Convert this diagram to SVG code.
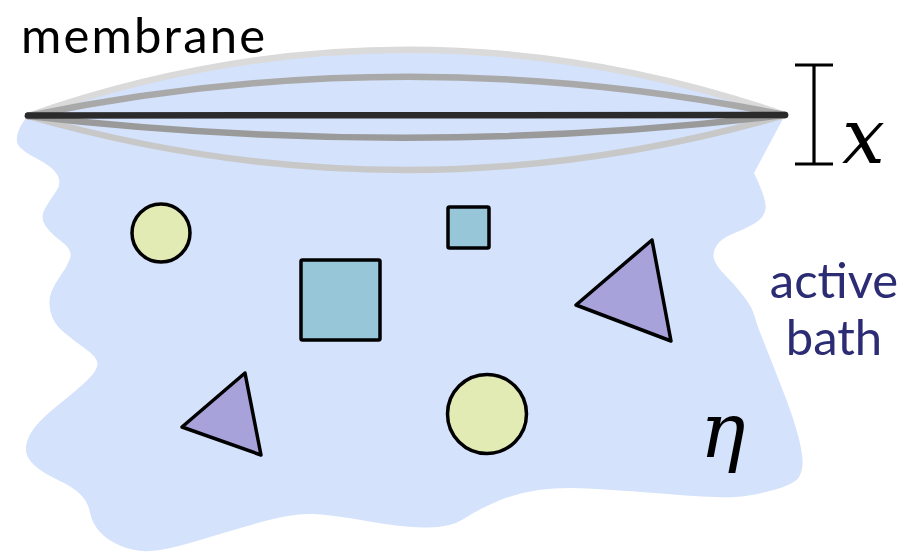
<svg xmlns="http://www.w3.org/2000/svg" width="907" height="554" viewBox="0 0 907 554">
<style>
.shape{stroke:#000;stroke-width:3.5;stroke-linejoin:round}
.circ{fill:#e1ebb3}
.sq{fill:#97c6d9}
.tri{fill:#a7a3da}
.mem{fill:none;stroke-linecap:round;stroke-width:6.5}
.lbl{font-family:"Lato","Liberation Sans",sans-serif;font-size:49px}
.math{font-family:"DejaVu Serif","Liberation Serif",serif;font-style:italic}
</style>
<rect width="907" height="554" fill="#fff"/>
<g id="bath">
<path fill="#d4e2fc" d="M28,116 C280,28 533,28 785,115 L754,173 Q767,200 765.5,209 Q764,218 754.5,223.5 Q745,229 733.5,233.5 Q722,238 717,245 Q712,252 714,259 Q716,266 725.5,275.5 Q735,285 743.5,296 Q752,307 754.5,316 Q757,325 762,337.5 Q767,350 773.5,366.5 Q780,383 786.5,400 Q793,417 797.5,433.5 Q802,450 802.5,460 Q803,470 799,477 Q795,484 773.5,490 Q752,496 734.5,497 Q717,498 667,494 Q617,490 588.5,488.5 Q560,487 538.5,490 Q517,493 497,501.5 Q477,510 463.5,519 Q450,528 425,527.5 Q400,527 366.5,521 Q333,515 313,514 Q293,513 263,521.5 Q233,530 200,540 Q167,550 151,551 Q135,552 121,546 Q107,540 99.5,531.5 Q92,523 90,512.5 Q88,502 80.5,494.5 Q73,487 58,480 Q43,473 34,465 Q25,457 26,447 Q27,437 35,427 Q43,417 60,403.5 Q77,390 87.5,380 Q98,370 97.5,363.5 Q97,357 85,348.5 Q73,340 63,331.5 Q53,323 50.5,311.5 Q48,300 51.5,291.5 Q55,283 61,275 Q67,267 70,258.5 Q73,250 61.5,241.5 Q50,233 45,225 Q40,217 45,208.5 Q50,200 56,191.5 Q62,183 57.5,175 Q53,167 37.5,159 Q22,151 18.5,145.5 Q15,140 18.5,131 Q22,122 28,116 Z"/>
</g>
<g id="membrane">
<path class="mem" stroke="#dadada" d="M28,116 C280,28 533,28 785,115"/>
<path class="mem" stroke="#c8c8c8" d="M28,116 C280,188 533,188 785,115"/>
<path class="mem" stroke="#a9a9a9" d="M28,116 C280,64 533,64 785,115"/>
<path class="mem" stroke="#9a9a9a" d="M28,116 C280,145 533,145 785,115"/>
<path class="mem" stroke="#2b2b2b" stroke-width="7" d="M28,115.5 L785,115"/>
</g>
<g id="circle1"><circle class="shape circ" cx="161" cy="233" r="29"/></g>
<g id="square1"><rect class="shape sq" x="301" y="260" width="79" height="80" rx="1.5"/></g>
<g id="square2"><rect class="shape sq" x="448" y="207" width="41" height="41" rx="1.5"/></g>
<g id="triangle1"><polygon class="shape tri" points="245,373 182,427 261,455"/></g>
<g id="triangle2"><polygon class="shape tri" points="652,240 576,305 671,341"/></g>
<g id="circle2"><circle class="shape circ" cx="487" cy="414" r="39.5"/></g>
<g id="label-membrane"><text class="lbl" x="21" y="53" fill="#000" textLength="244" lengthAdjust="spacing">membrane</text></g>
<g id="label-bath"><text class="lbl" fill="#2b2c74" text-anchor="middle"><tspan x="834" y="298">active</tspan><tspan x="834" y="355">bath</tspan></text></g>
<g id="x-scale">
<path d="M795,65 H833 M814,65 V164 M795,164 H833" stroke="#000" stroke-width="3.2" fill="none"/>
<text class="math" x="842" y="163" font-size="76" fill="#000">x</text>
</g>
<g id="label-eta"><text class="math" x="700" y="457" font-size="76" fill="#000">η</text></g>
</svg>
